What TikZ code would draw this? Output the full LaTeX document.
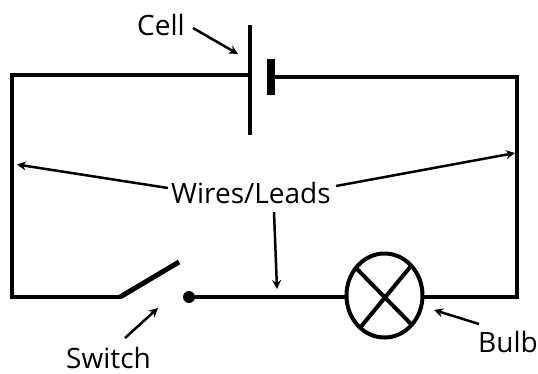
\documentclass[tikz,border=0pt]{standalone}
\usepackage{fontspec}
\setmainfont{Open Sans}
\usetikzlibrary{arrows.meta,shapes.geometric}
\tikzset{
  wire/.style={line width=4pt,line cap=rect,line join=miter},
  pointer/.style={line width=2.5pt,-{Stealth[length=9pt,width=9pt]}},
  lbl/.style={font=\fontsize{28}{28}\selectfont,inner sep=0pt,anchor=base west},
}
\begin{document}
\begin{tikzpicture}[x=1pt,y=-1pt]
\useasboundingbox (0,0) rectangle (538,373);
% circuit corners
\coordinate (tl) at (12,74.5);
\coordinate (tr) at (517,77);
\coordinate (bl) at (12,297);
\coordinate (br) at (517,297);
\coordinate (cellA) at (250,74.5);
\coordinate (cellB) at (275,77);
\coordinate (swA) at (120,297);
\coordinate (swArm) at (179,262);
% components
\node[circle,fill=black,minimum size=12pt,inner sep=0pt] (dot) at (189,297) {};
\node[ellipse,draw,line width=4pt,minimum width=76pt,minimum height=84pt,inner sep=0pt] (bulb) at (384.5,295.5) {};
\draw[line width=4pt] (cellA |- 0,25) -- (cellA |- 0,135);
\draw[line width=8pt] (271,58.5) -- (271,95);
\draw[wire] (bl) -- (tl) -- (cellA);
\draw[wire] (cellB) -- (tr) -- (br) -- (bulb.east |- br);
\draw[wire] (bl) -- (swA);
\draw[line width=5pt] (swA) -- (swArm);
\draw[wire,line cap=butt] (dot) -- (bulb.west |- dot);
\draw[line width=4pt] (356,268) -- (412,325);
\draw[line width=4pt] (411,266) -- (359,329);
% labels
\node[lbl] (cell) at (137,35) {Cell};
\node[lbl] (wires) at (171,203) {Wires/Leads};
\node[lbl] (switch) at (66,368) {Switch};
\node[lbl] (bulbl) at (478,352) {Bulb};
% pointers
\coordinate (p1) at (238,54);
\coordinate (p2) at (158,308);
\coordinate (p3) at (434,310);
\coordinate (p4) at (17,164.5);
\coordinate (p5) at (515,153);
\coordinate (p6) at (277,289);
\coordinate (s1) at (193,28);
\coordinate (s2) at (125,338);
\coordinate (s3) at (479,324);
\coordinate (s4) at (168,188);
\coordinate (s5) at (336,186);
\coordinate (s6) at (274,212);
\draw[pointer] (s1) -- (p1);
\draw[pointer] (s2) -- (p2);
\draw[pointer] (s3) -- (p3);
\draw[pointer] (s4) -- (p4);
\draw[pointer] (s5) -- (p5);
\draw[pointer] (s6) -- (p6);
\end{tikzpicture}
\end{document}
